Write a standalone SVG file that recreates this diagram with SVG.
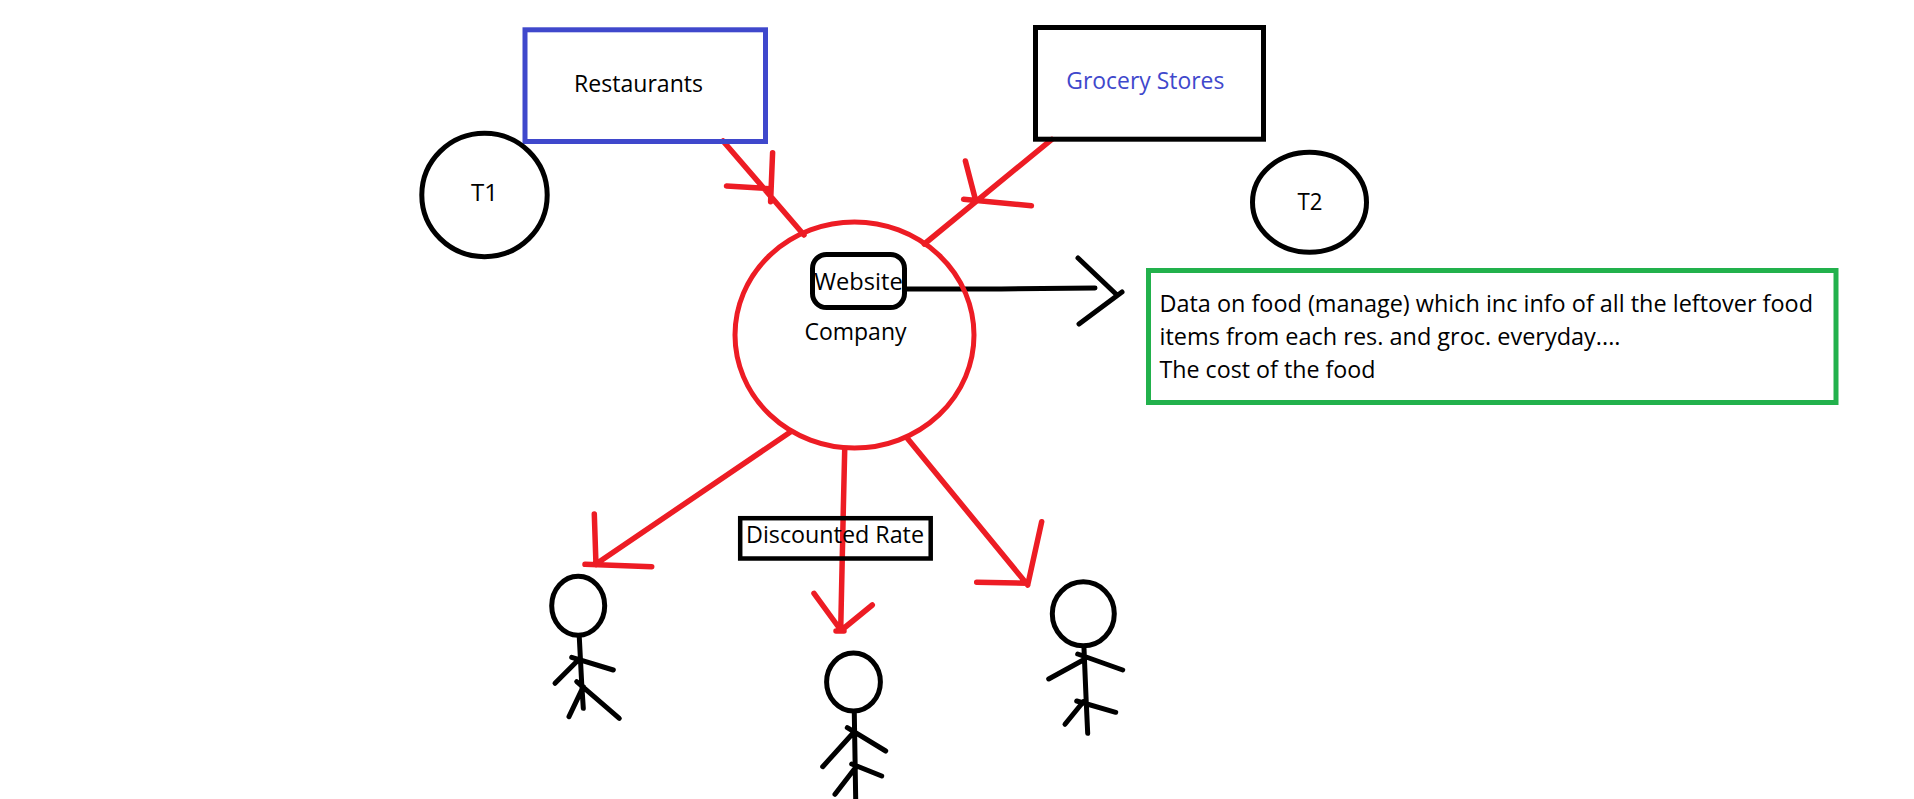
<svg xmlns="http://www.w3.org/2000/svg" width="1914" height="799" viewBox="0 0 1914 799">
<style>
.s{fill:none;stroke-linecap:round;stroke-linejoin:round}
.red{stroke:#ed1c24;stroke-width:5.5}
.blk{stroke:#000;stroke-width:5}
.fig{stroke:#000;stroke-width:5}
text{font-family:"Open Sans","Noto Sans","Liberation Sans",sans-serif;font-size:23px;fill:#000}
</style>
<rect width="1914" height="799" fill="#fff"/>
<g id="connectors">
<path class="s red" d="M723 141L804 235M772.6 152.7L770.6 201.7M726.5 186L769.4 188.7"/>
<path class="s red" d="M1051.8 139.3L924.3 244M965.4 161L976 201.7M963.6 199.3L1031.4 205.7"/>
<path class="s red" d="M790.7 431.7L596 564M594.3 514L596 565M585 564.3L651.7 566.7"/>
<path class="s red" d="M844.7 450L843.3 510L840.7 630M814 593.3L840.7 630M872.3 605L841.7 630M836 631L844 631"/>
<path class="s red" d="M907.3 438.3L1027.7 585M1041.7 521.7L1027.7 585M976.7 582.3L1027.7 583.3"/>
<path class="s blk" d="M907 289L1001 289L1095 288M1078 258L1117 295M1122 292L1079 324"/>
</g>
<g id="restaurants">
<rect x="525" y="29.8" width="240.5" height="111.7" fill="none" stroke="#3f48cc" stroke-width="5"/>
<text x="574" y="92" textLength="129" lengthAdjust="spacingAndGlyphs">Restaurants</text>
</g>
<g id="grocery-stores">
<rect x="1035.5" y="27.5" width="228" height="111.7" fill="none" stroke="#000" stroke-width="5"/>
<text x="1066.3" y="88.5" textLength="158" lengthAdjust="spacingAndGlyphs" style="fill:#3f48cc">Grocery Stores</text>
</g>
<g id="t1">
<ellipse cx="484.5" cy="195" rx="62.7" ry="61.7" fill="none" stroke="#000" stroke-width="5"/>
<text x="471" y="201" textLength="27" lengthAdjust="spacingAndGlyphs">T1</text>
</g>
<g id="t2">
<ellipse cx="1309.5" cy="202.3" rx="57" ry="50" fill="none" stroke="#000" stroke-width="5"/>
<text x="1297.5" y="210" textLength="25" lengthAdjust="spacingAndGlyphs">T2</text>
</g>
<g id="company">
<ellipse cx="854.5" cy="335" rx="119.5" ry="113" fill="none" stroke="#ed1c24" stroke-width="5"/>
<text x="804.5" y="340" textLength="102" lengthAdjust="spacingAndGlyphs">Company</text>
</g>
<g id="website">
<rect x="812.5" y="254.5" width="92" height="53" rx="14" fill="none" stroke="#000" stroke-width="5"/>
<text x="814.2" y="290" textLength="88.5" lengthAdjust="spacingAndGlyphs">Website</text>
</g>
<g id="data-box">
<rect x="1148.5" y="270.5" width="687.5" height="132" fill="none" stroke="#22b14c" stroke-width="5"/>
<text x="1159.5" y="312.3" textLength="653.5" lengthAdjust="spacingAndGlyphs">Data on food (manage) which inc info of all the leftover food</text>
<text x="1159.5" y="345" textLength="461" lengthAdjust="spacingAndGlyphs">items from each res. and groc. everyday....</text>
<text x="1159.5" y="378.3" textLength="216" lengthAdjust="spacingAndGlyphs">The cost of the food</text>
</g>
<g id="discounted-rate">
<rect x="740.2" y="518.2" width="190.5" height="40.3" fill="none" stroke="#000" stroke-width="4.5"/>
<text x="746" y="543.3" textLength="178" lengthAdjust="spacingAndGlyphs">Discounted Rate</text>
</g>
<g id="person-1">
<ellipse cx="578.2" cy="605.7" rx="26.5" ry="29.5" fill="none" stroke="#000" stroke-width="5"/>
<path class="s fig" d="M579.3 637.3L581.7 683.3L583.3 708.3M571.7 657.3L613.3 670M580 658.3L555 683.3M576.7 681.7L619.3 718.3M583.3 686.7L569 716.7"/>
</g>
<g id="person-2">
<ellipse cx="853.5" cy="682" rx="26.9" ry="29" fill="none" stroke="#000" stroke-width="5"/>
<path class="s fig" d="M854.3 713.3L855.7 799M847.3 727.7L885.7 751M854.3 731.7L822.7 766.7M851.7 764L881.7 776M855 768.3L835 794.3"/>
</g>
<g id="person-3">
<ellipse cx="1083.3" cy="613.8" rx="31" ry="32" fill="none" stroke="#000" stroke-width="5"/>
<path class="s fig" d="M1084 648.3L1086 696.7L1087.7 733.3M1077.7 654L1122.7 670M1083.3 660L1048.7 679M1076.7 701L1115.7 712.3M1083.3 701.7L1065 724.3"/>
</g>
</svg>
